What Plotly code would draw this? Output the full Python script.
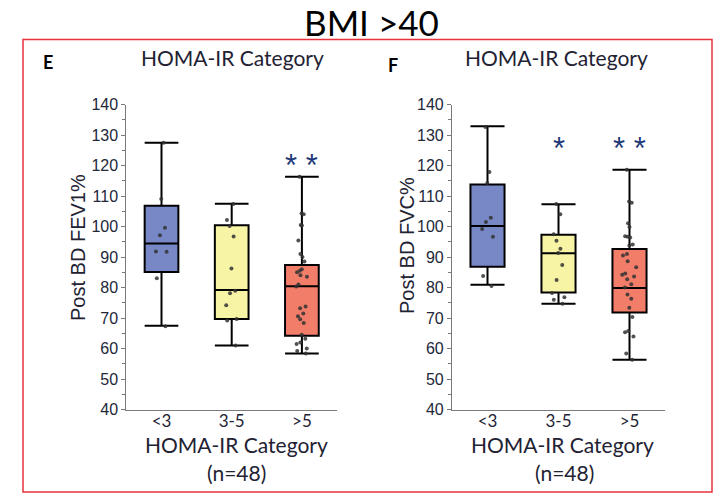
import plotly.graph_objects as go

W, H = 717, 494

categories = ["<3", "3-5", ">5"]

# Panel E: Post BD FEV1%
fev1_lower = [67.5, 61.0, 58.4]
fev1_q1 = [85.1, 69.7, 64.2]
fev1_median = [94.4, 79.2, 80.4]
fev1_q3 = [106.8, 100.4, 87.4]
fev1_upper = [127.5, 107.5, 116.3]
fev1_pts_lt3 = [127.5, 109.0, 99.6, 97.1, 91.8, 91.7, 83.0, 67.3]
fev1_pts_3to5 = [107.4, 102.1, 100.2, 96.7, 86.2, 78.9, 78.1, 74.2, 69.7, 69.2, 61.0]
fev1_pts_gt5 = [116.3, 104.3, 104.0, 100.5, 100.3, 95.4, 91.0, 90.0, 88.5, 86.0, 85.5,
                85.0, 84.0, 83.5, 81.0, 80.3, 73.8, 73.2, 71.5, 70.6, 69.6, 68.4, 64.5,
                63.2, 62.0, 61.5, 60.0, 59.2, 58.4]

# Panel F: Post BD FVC%
fvc_lower = [80.9, 74.7, 56.3]
fvc_q1 = [86.8, 78.4, 71.8]
fvc_median = [100.2, 91.2, 79.8]
fvc_q3 = [113.8, 97.3, 92.6]
fvc_upper = [132.9, 107.3, 118.6]
fvc_pts_lt3 = [132.6, 117.9, 114.3, 102.9, 101.5, 99.2, 96.6, 83.8, 80.5]
fvc_pts_3to5 = [107.4, 104.0, 97.5, 95.3, 92.7, 91.3, 87.4, 82.5, 78.2, 76.8, 76.0, 74.7]
fvc_pts_gt5 = [118.6, 108.2, 107.8, 101.1, 99.8, 96.8, 96.6, 96.4, 94.1, 93.8, 91.0, 90.5,
               88.6, 86.6, 84.6, 84.2, 83.6, 82.7, 81.1, 80.0, 77.7, 76.3, 73.4, 70.3,
               65.7, 65.3, 63.9, 58.4, 56.3]

significance_fev1 = ["", "", "* *"]
significance_fvc = ["", "*", "* *"]

y_ticks = list(range(40, 141, 10))

colors = ["#7887c6", "#f8f4a6", "#f27e6a"]


def px_x(x):
    return x / W


def px_y(y):
    return 1 - y / H


fig = go.Figure()

panels = [
    ("x", "y", fev1_lower, fev1_q1, fev1_median, fev1_q3, fev1_upper,
     [fev1_pts_lt3, fev1_pts_3to5, fev1_pts_gt5]),
    ("x2", "y2", fvc_lower, fvc_q1, fvc_median, fvc_q3, fvc_upper,
     [fvc_pts_lt3, fvc_pts_3to5, fvc_pts_gt5]),
]

for xa, ya, lo, q1, med, q3, hi, pts in panels:
    for i, cat in enumerate(categories):
        fig.add_trace(go.Box(
            x=[cat], q1=[q1[i]], median=[med[i]], q3=[q3[i]],
            lowerfence=[lo[i]], upperfence=[hi[i]],
            fillcolor=colors[i], line=dict(color="black", width=2),
            whiskerwidth=1, width=0.48, boxpoints=False,
            xaxis=xa, yaxis=ya, showlegend=False, hoverinfo="skip",
        ))
        fig.add_trace(go.Box(
            x=[cat] * len(pts[i]), y=pts[i],
            boxpoints="all", jitter=0.45, pointpos=0,
            fillcolor="rgba(0,0,0,0)", line=dict(color="rgba(0,0,0,0)", width=0),
            marker=dict(color="#333333", size=4, opacity=0.85),
            width=0.48, xaxis=xa, yaxis=ya, showlegend=False, hoverinfo="skip",
        ))

ydom = [px_y(409.5), px_y(104.5)]

xaxis_common = dict(
    type="category", categoryorder="array", categoryarray=categories,
    range=[-0.5, 2.5], showline=True, linecolor="#7a7a7a", linewidth=1.2,
    ticks="", showgrid=False, zeroline=False, automargin=False,
    ticklabelstandoff=-4,
    tickfont=dict(family="Lato", size=17, color="#222233"),
)
yaxis_common = dict(
    range=[40, 140], tickvals=y_ticks, showline=True, linecolor="#7a7a7a",
    linewidth=1.2, ticks="outside", ticklen=4, tickcolor="#7a7a7a",
    minor=dict(dtick=5, ticks="outside", ticklen=3, tickcolor="#7a7a7a"),
    showgrid=False, zeroline=False, automargin=False,
    tickfont=dict(family="Liberation Sans", size=16, color="#22283a"),
)

fig.update_layout(
    width=W, height=H, autosize=False,
    margin=dict(l=0, r=0, t=0, b=0, pad=0, autoexpand=False),
    paper_bgcolor="white", plot_bgcolor="white",
    boxmode="overlay",
    xaxis=dict(domain=[px_x(126.4), px_x(337)], anchor="y", **xaxis_common),
    yaxis=dict(domain=ydom, anchor="x", **yaxis_common),
    xaxis2=dict(domain=[px_x(452), px_x(665)], anchor="y2", **xaxis_common),
    yaxis2=dict(domain=ydom, anchor="x2", **yaxis_common),
)

ann = []


def text(x, y, s, size, family="Lato", color="#1a1a1a", angle=0):
    ann.append(dict(x=px_x(x), y=px_y(y), xref="paper", yref="paper", text=s,
                    showarrow=False, xanchor="center", yanchor="middle",
                    textangle=angle, font=dict(family=family, size=size, color=color)))


text(371, 22, "BMI >40", 35, color="#000000")
text(48, 62, "<b>E</b>", 18, color="#000000")
text(393, 65, "<b>F</b>", 18, color="#000000")
text(232, 57, "HOMA-IR Category", 21, color="#222233")
text(556, 57, "HOMA-IR Category", 21, color="#222233")
text(236, 444, "HOMA-IR Category", 21, color="#222233")
text(562, 444, "HOMA-IR Category", 21, color="#222233")
text(236, 472, "(n=48)", 21, color="#222233")
text(564, 472, "(n=48)", 21, color="#222233")
text(78, 248, "Post BD FEV1%", 20, family="Liberation Sans", color="#222233", angle=-90)
text(407, 246, "Post BD FVC%", 20, family="Liberation Sans", color="#222233", angle=-90)

for xa, ya, sig, ypx in [("x", "y", significance_fev1, 160.5), ("x2", "y2", significance_fvc, 143)]:
    for i, s in enumerate(sig):
        if s:
            ann.append(dict(x=categories[i], y=140 - (ypx + 5 - 104.5) / 3.05,
                            xref=xa, yref=ya, text=s, showarrow=False,
                            xanchor="center", yanchor="middle",
                            font=dict(family="Liberation Sans", size=31, color="#1f3a78")))

fig.update_layout(annotations=ann)

fig.add_shape(type="rect", xref="paper", yref="paper",
              x0=px_x(23), x1=px_x(712), y0=px_y(492), y1=px_y(39.5),
              line=dict(color="#e8323c", width=1.5), fillcolor="rgba(0,0,0,0)")

fig.write_html("out.html")
